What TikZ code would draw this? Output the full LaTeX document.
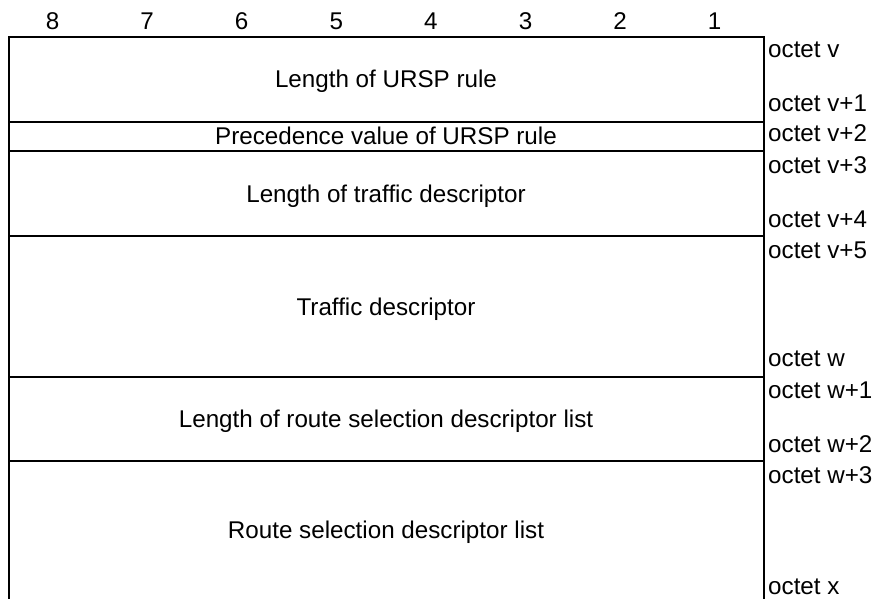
\documentclass[tikz,border=0pt]{standalone}
\usepackage{fontspec}
\setmainfont{Liberation Sans}
\begin{document}
\begin{tikzpicture}[x=1pt,y=-1pt]
\useasboundingbox (0,0) rectangle (875,599);
\tikzset{
  lbl/.style={font=\fontsize{24.2}{29}\selectfont, inner sep=0pt, anchor=base},
  oct/.style={lbl, anchor=base west},
  rule/.style={line width=2pt, line cap=rect}
}
% frame
\draw[rule] (8.5,37) -- (8.5,600);
\draw[rule] (764,37) -- (764,600);
\foreach \y in {37,122,151,236,377,461}
  \draw[rule] (8.5,\y) -- (764,\y);
% bit numbers
\foreach \i in {1,...,8}
  \node[lbl] (h\i) at ({52.5+94.6*(8-\i)},29.5) {\i};
% field texts
\node[lbl] (f1) at (386,88) {Length of URSP rule};
\node[lbl] (f2) at (386,144.5) {Precedence value of URSP rule};
\node[lbl] (f3) at (386,202) {Length of traffic descriptor};
\node[lbl] (f4) at (386,315) {Traffic descriptor};
\node[lbl] (f5) at (386,427.5) {Length of route selection descriptor list};
\node[lbl] (f6) at (386,538.5) {Route selection descriptor list};
% octet labels
\node[oct] (o1) at (768,58) {octet v};
\node[oct] (o2) at (768,112) {octet v+1};
\node[oct] (o3) at (768,142) {octet v+2};
\node[oct] (o4) at (768,173) {octet v+3};
\node[oct] (o5) at (768,227) {octet v+4};
\node[oct] (o6) at (768,258) {octet v+5};
\node[oct] (o7) at (768,366) {octet w};
\node[oct] (o8) at (768,398) {octet w+1};
\node[oct] (o9) at (768,452) {octet w+2};
\node[oct] (o10) at (768,483) {octet w+3};
\node[oct] (o11) at (768,594) {octet x};
\end{tikzpicture}
\end{document}
